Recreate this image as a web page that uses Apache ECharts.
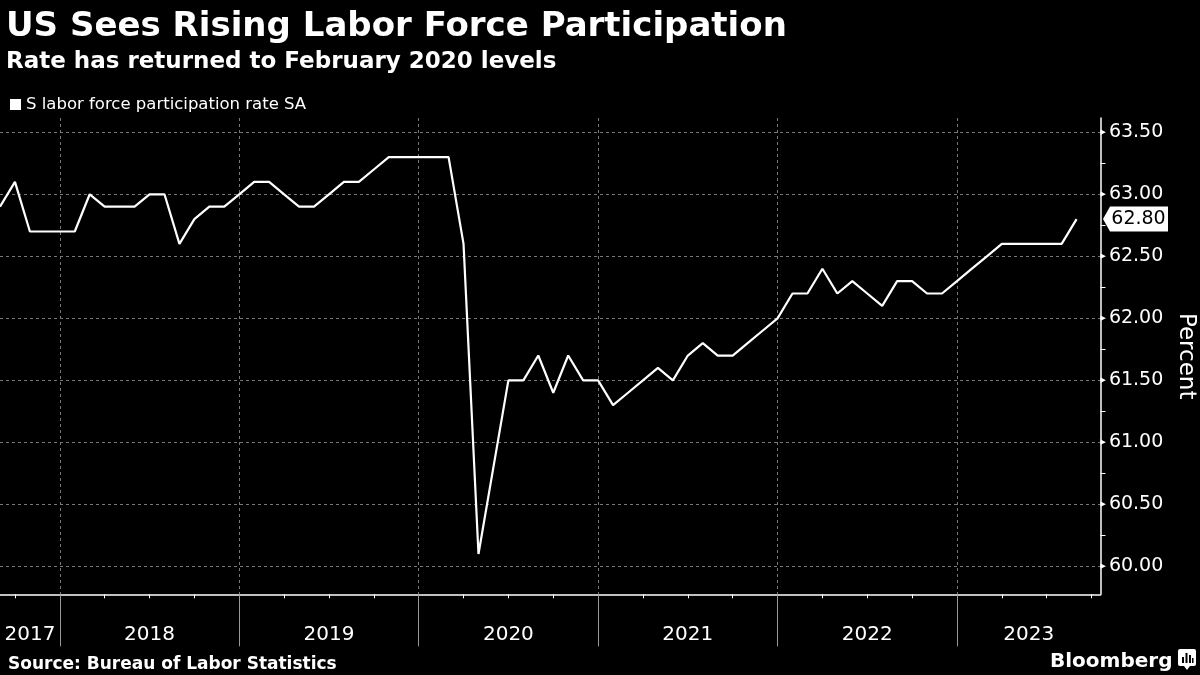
<!DOCTYPE html>
<html lang="en">

<head>
    <meta charset="utf-8">
    <title>US Sees Rising Labor Force Participation</title>
    <style media="screen">
        html, body {
            margin: 0;
            padding: 0;
            background: #000;
        }
        #id-main-area {
            width: 1200px;
            height: 675px;
        }
    </style>
</head>

<body>
    <div id="id-main-area"></div>
    <script src="https://cdn.jsdelivr.net/npm/echarts@6/dist/echarts.min.js"></script>
    <script>
        var log = console.log.bind(console)

        // monthly values, Aug 2017 .. Aug 2023 (each plotted at month end)
        var firstMonth = 'Aug 2017'
        var participation = [
            62.9, 63.1, 62.7, 62.7, 62.7,
            62.7, 63.0, 62.9, 62.9, 62.9, 63.0, 63.0, 62.6, 62.8, 62.9, 62.9, 63.0,
            63.1, 63.1, 63.0, 62.9, 62.9, 63.0, 63.1, 63.1, 63.2, 63.3, 63.3, 63.3,
            63.3, 63.3, 62.6, 60.1, 60.8, 61.5, 61.5, 61.7, 61.4, 61.7, 61.5, 61.5,
            61.3, 61.4, 61.5, 61.6, 61.5, 61.7, 61.8, 61.7, 61.7, 61.8, 61.9, 62.0,
            62.2, 62.2, 62.4, 62.2, 62.3, 62.2, 62.1, 62.3, 62.3, 62.2, 62.2, 62.3,
            62.4, 62.5, 62.6, 62.6, 62.6, 62.6, 62.6, 62.8,
        ]
        var yearLabels = ['2017', '2018', '2019', '2020', '2021', '2022', '2023']
        var yMajorTicks = [60, 60.5, 61, 61.5, 62, 62.5, 63, 63.5]
        var yMinorTicks = [60.25, 60.75, 61.25, 61.75, 62.25, 62.75, 63.25]

        var seriesName = 'S labor force participation rate SA'
        var font = 'DejaVu Sans'
        var gridColor = '#777'

        // x is months counted from 1 Sep 2017; Jan 2018 sits at 4
        var xMin = 0
        var xMax = 73.6
        var yMin = 59.775
        var yMax = 63.615

        var seriesData = () => {
            var l = []
            for (var i = 0; i < participation.length; i++) {
                l.push([i, participation[i]])
            }
            return l
        }

        var quarterTicks = () => {
            var l = []
            for (var v = 1; v <= xMax; v += 3) {
                l.push(v)
            }
            return l
        }

        var yearStarts = () => {
            var l = []
            for (var k = 1; k < yearLabels.length; k++) {
                l.push(4 + 12 * (k - 1))
            }
            return l
        }

        var yearCenters = () => {
            var starts = yearStarts()
            var l = []
            for (var k = 0; k < yearLabels.length; k++) {
                var a = k == 0 ? xMin : starts[k - 1]
                var b = k < starts.length ? starts[k] : xMax
                l.push((a + b) / 2)
            }
            return l
        }

        var showChart = () => {
            var element = document.querySelector('#id-main-area')
            var myChart = echarts.init(element)
            var centers = yearCenters()
            var last = participation[participation.length - 1]
            var option = {
                backgroundColor: '#000',
                animation: false,
                textStyle: {
                    fontFamily: font,
                },
                title: [
                    {
                        text: 'US Sees Rising Labor Force Participation',
                        left: 1,
                        top: 5,
                        textStyle: { color: '#fff', fontSize: 34, fontWeight: 'bold', fontFamily: font },
                    },
                    {
                        text: 'Rate has returned to February 2020 levels',
                        left: 1,
                        top: 46,
                        textStyle: { color: '#fff', fontSize: 23, fontWeight: 'bold', fontFamily: font },
                    },
                    {
                        text: 'Source: Bureau of Labor Statistics',
                        left: 3,
                        top: 651,
                        textStyle: { color: '#fff', fontSize: 17, fontWeight: 'bold', fontFamily: font },
                    },
                    {
                        text: 'Bloomberg',
                        left: 1045,
                        top: 647,
                        textStyle: { color: '#fff', fontSize: 20, fontWeight: 'bold', fontFamily: font },
                    },
                ],
                legend: {
                    data: [seriesName],
                    left: 5,
                    top: 91,
                    icon: 'rect',
                    itemWidth: 11,
                    itemHeight: 11,
                    itemGap: 5,
                    textStyle: { color: '#fff', fontSize: 16.5, fontFamily: font },
                },
                grid: {
                    left: 0,
                    right: 99.5,
                    top: 118,
                    bottom: 80.7,
                    containLabel: false,
                    outerBoundsMode: 'none',
                },
                xAxis: [
                    {
                        type: 'value',
                        min: xMin,
                        max: xMax,
                        axisLine: { show: true, onZero: false, lineStyle: { color: '#fff', width: 1.5 } },
                        axisTick: { show: true, customValues: quarterTicks(), length: 4, lineStyle: { color: '#fff', width: 1 } },
                        axisLabel: { show: false },
                        splitLine: { show: false },
                    },
                    {
                        type: 'value',
                        min: xMin,
                        max: xMax,
                        position: 'bottom',
                        axisLine: { show: false, onZero: false },
                        axisTick: { show: true, customValues: yearStarts(), length: 52, lineStyle: { color: '#999', width: 1 } },
                        axisLabel: {
                            show: true,
                            customValues: centers,
                            margin: 30,
                            color: '#fff',
                            fontSize: 20,
                            fontFamily: font,
                            formatter: (v) => yearLabels[centers.indexOf(v)],
                        },
                        splitLine: { show: true, lineStyle: { color: gridColor, type: [3, 3], width: 1 } },
                    },
                ],
                yAxis: [
                    {
                        type: 'value',
                        position: 'right',
                        min: yMin,
                        max: yMax,
                        name: 'Percent',
                        nameLocation: 'middle',
                        nameRotate: -90,
                        nameGap: 72,
                        nameTextStyle: { color: '#fff', fontSize: 23, fontFamily: font },
                        axisLine: { show: true, onZero: false, lineStyle: { color: '#fff', width: 1.5 } },
                        axisTick: { show: true, customValues: yMinorTicks, length: 5, lineStyle: { color: '#fff', width: 1 } },
                        axisLabel: {
                            show: true,
                            customValues: yMajorTicks,
                            margin: 0,
                            formatter: (v) => '{t|▶}{v|' + v.toFixed(2) + '}',
                            rich: {
                                t: { color: '#fff', fontSize: 7, padding: [0, 3, 0, 0], fontFamily: font },
                                v: { color: '#fff', fontSize: 19, fontFamily: font },
                            },
                        },
                        splitLine: { show: false },
                    },
                    {
                        type: 'value',
                        position: 'right',
                        min: yMin,
                        max: yMax,
                        axisLine: { show: false, onZero: false },
                        axisTick: { show: false, customValues: yMajorTicks },
                        axisLabel: { show: false },
                        splitLine: { show: true, lineStyle: { color: gridColor, type: [3, 3], width: 1 } },
                    },
                ],
                series: [
                    {
                        name: seriesName,
                        type: 'line',
                        xAxisIndex: 0,
                        yAxisIndex: 0,
                        data: seriesData(),
                        showSymbol: false,
                        clip: false,
                        color: '#fff',
                        lineStyle: { color: '#fff', width: 2.2 },
                        itemStyle: { color: '#fff' },
                        markPoint: {
                            silent: true,
                            symbol: 'path://M0,12.5L7,0L65,0L65,25L7,25Z',
                            symbolSize: [65, 25],
                            symbolKeepAspect: false,
                            symbolOffset: [35, 0],
                            itemStyle: { color: '#fff' },
                            label: {
                                show: true,
                                position: 'inside',
                                offset: [3, 0],
                                color: '#000',
                                fontSize: 19,
                                fontFamily: font,
                                formatter: (p) => Number(p.value).toFixed(2),
                            },
                            data: [
                                { coord: [xMax, last], value: last },
                            ],
                        },
                    },
                ],
                graphic: [
                    {
                        type: 'group',
                        left: 1178,
                        top: 649,
                        children: [
                            { type: 'rect', shape: { x: 0, y: 0, width: 18, height: 17, r: 2 }, style: { fill: '#fff' } },
                            { type: 'polygon', shape: { points: [[6, 17], [12, 17], [9, 21]] }, style: { fill: '#fff' } },
                            { type: 'rect', shape: { x: 4, y: 8, width: 2, height: 6 }, style: { fill: '#000' } },
                            { type: 'rect', shape: { x: 7.5, y: 4, width: 2, height: 10 }, style: { fill: '#000' } },
                            { type: 'rect', shape: { x: 11, y: 6, width: 2, height: 8 }, style: { fill: '#000' } },
                            { type: 'rect', shape: { x: 14, y: 9, width: 1.5, height: 5 }, style: { fill: '#000' } },
                        ],
                    },
                ],
            }
            myChart.setOption(option, true)
        }

        var __main = () => {
            showChart()
        }

        __main()
    </script>
</body>

</html>
